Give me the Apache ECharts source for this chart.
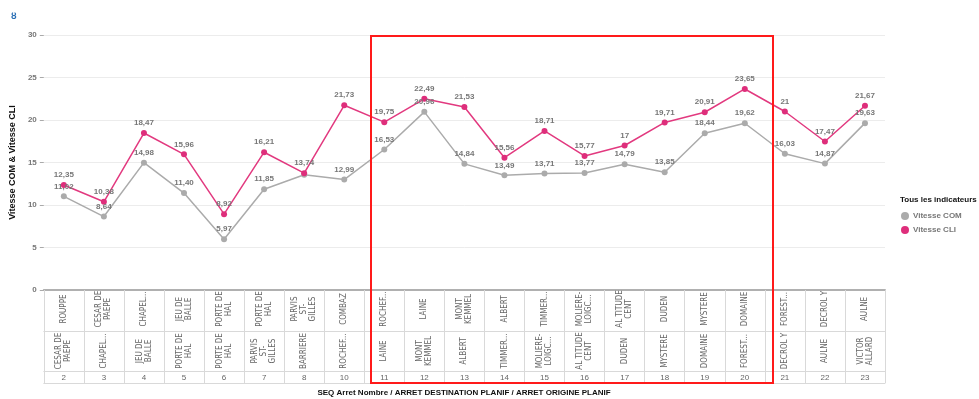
<!DOCTYPE html>
<html>
<head>
<meta charset="utf-8">
<script src="https://cdn.jsdelivr.net/npm/echarts@6/dist/echarts.min.js"></script>
<style>
html,body{margin:0;padding:0;background:#fff;}
#c{width:979px;height:399px;}
</style>
</head>
<body>
<div id="c"></div>
<script>
var seqNumbers = ['2','3','4','5','6','7','8','10','11','12','13','14','15','16','17','18','19','20','21','22','23'];
var destinations = ['ROUPPE','CESAR DE\nPAEPE','CHAPEL...','JEU DE\nBALLE','PORTE DE\nHAL','PORTE DE\nHAL','PARVIS\nST-\nGILLES','COMBAZ','ROCHEF...','LAINE','MONT\nKEMMEL','ALBERT','TIMMER...','MOLIERE-\nLOIGC...','AL TITUDE\nCENT','DUDEN','MYSTERE','DOMAINE','FOREST...','DECROL Y','AULNE'];
var origins = ['CESAR DE\nPAEPE','CHAPEL...','JEU DE\nBALLE','PORTE DE\nHAL','PORTE DE\nHAL','PARVIS\nST-\nGILLES','BARRIERE','ROCHEF...','LAINE','MONT\nKEMMEL','ALBERT','TIMMER...','MOLIERE-\nLOIGC...','AL TITUDE\nCENT','DUDEN','MYSTERE','DOMAINE','FOREST...','DECROL Y','AULNE','VICTOR\nALLARD'];
var vitesseCOM = [11.02, 8.64, 14.98, 11.40, 5.97, 11.85, 13.56, 12.99, 16.53, 20.96, 14.84, 13.49, 13.71, 13.77, 14.79, 13.85, 18.44, 19.62, 16.03, 14.87, 19.63];
var vitesseCLI = [12.35, 10.38, 18.47, 15.96, 8.92, 16.21, 13.74, 21.73, 19.75, 22.49, 21.53, 15.56, 18.71, 15.77, 17, 19.71, 20.91, 23.65, 21, 17.47, 21.67];
var yTicks = [0, 5, 10, 15, 20, 25, 30];
var hiddenCOMLabels = ['8'];

var FONT = 'Liberation Sans, Arial, sans-serif';
var NARROW = '"Liberation Sans Narrow", "DejaVu Sans Condensed", sans-serif';
function fmt(v){
  var s = (Math.round(v) === v) ? String(v) : v.toFixed(2);
  return s.replace('.', ',');
}
var comData = vitesseCOM.map(function(v, i){
  if (hiddenCOMLabels.indexOf(seqNumbers[i]) >= 0) return {value: v, label: {show: false}};
  return v;
});

var chart = echarts.init(document.getElementById('c'), null, {renderer: 'canvas'});
var tableLine = {show: true, lineStyle: {color: '#d9d9d9', width: 1}};
var option = {
  animation: false,
  textStyle: {fontFamily: FONT},
  grid: {left: 43, right: 94, top: 35, bottom: 109, containLabel: false},
  legend: {
    orient: 'vertical', left: 896, top: 207, itemWidth: 8, itemHeight: 8, itemGap: 6,
    icon: 'circle',
    textStyle: {fontFamily: FONT, fontSize: 8, fontWeight: 'bold', color: '#777', padding: [0,0,0,-1]},
    data: ['Vitesse COM', 'Vitesse CLI']
  },
  xAxis: [
    {
      type: 'category', data: destinations, position: 'bottom', offset: 0,
      axisLine: {show: true, lineStyle: {color: '#b0b0b0', width: 2}},
      axisTick: {show: true, length: 41, interval: 0, lineStyle: {color: '#d9d9d9'}},
      axisLabel: {interval: 0, rotate: 90, align: 'center', verticalAlign: 'middle', margin: 19,
        fontFamily: NARROW, fontSize: 8, color: '#666', lineHeight: 9}
    },
    {
      type: 'category', data: origins, position: 'bottom', offset: 41,
      axisLine: tableLine,
      axisTick: {show: true, length: 40, interval: 0, lineStyle: {color: '#d9d9d9'}},
      axisLabel: {interval: 0, rotate: 90, align: 'center', verticalAlign: 'middle', margin: 20,
        fontFamily: NARROW, fontSize: 8, color: '#666', lineHeight: 9}
    },
    {
      type: 'category', data: seqNumbers, position: 'bottom', offset: 81,
      axisLine: tableLine,
      axisTick: {show: true, length: 12, interval: 0, lineStyle: {color: '#d9d9d9'}},
      axisLabel: {interval: 0, margin: 3, fontFamily: FONT, fontSize: 8, color: '#666'}
    },
    {
      type: 'category', data: seqNumbers, position: 'bottom', offset: 93,
      axisLine: tableLine, axisTick: {show: false}, axisLabel: {show: false}
    }
  ],
  yAxis: {
    type: 'value', min: yTicks[0], max: yTicks[yTicks.length - 1], interval: 5,
    name: 'Vitesse COM & Vitesse CLI', nameLocation: 'middle', nameGap: 25, nameRotate: 90,
    nameTextStyle: {fontFamily: FONT, fontSize: 9, fontWeight: 'bold', color: '#111'},
    axisLine: {show: false},
    axisTick: {show: true, length: 4, lineStyle: {color: '#aaa'}},
    axisLabel: {margin: 7, fontFamily: FONT, fontSize: 8, fontWeight: 'bold', color: '#777'},
    splitLine: {show: true, lineStyle: {color: '#ececec', width: 1}}
  },
  series: [
    {
      name: 'Vitesse COM', type: 'line', xAxisIndex: 0, data: comData,
      symbol: 'circle', symbolSize: 6,
      itemStyle: {color: '#ababab'}, lineStyle: {color: '#ababab', width: 1.5},
      label: {show: true, position: 'top', distance: 3, formatter: function(p){ return fmt(p.value); },
        fontFamily: FONT, fontSize: 8, fontWeight: 'bold', color: '#777'}
    },
    {
      name: 'Vitesse CLI', type: 'line', xAxisIndex: 0, data: vitesseCLI,
      symbol: 'circle', symbolSize: 6,
      itemStyle: {color: '#de2e7b'}, lineStyle: {color: '#e2397f', width: 1.5},
      label: {show: true, position: 'top', distance: 3, formatter: function(p){ return fmt(p.value); },
        fontFamily: FONT, fontSize: 8, fontWeight: 'bold', color: '#777'}
    }
  ],
  graphic: [
    {type: 'text', left: 11, top: 12, style: {text: 'ȣ', fill: '#2a6fb5', font: 'bold 9px ' + FONT}},
    {type: 'text', left: 900, top: 196, style: {text: 'Tous les indicateurs', fill: '#111', font: 'bold 8px ' + FONT}},
    {type: 'text', x: 464, y: 393, style: {text: 'SEQ Arret Nombre / ARRET DESTINATION PLANIF / ARRET ORIGINE PLANIF', fill: '#111', font: 'bold 8px ' + FONT, align: 'center', verticalAlign: 'middle'}},
    {type: 'rect', shape: {x: 371, y: 36, width: 402, height: 347}, style: {fill: 'none', stroke: '#ff1a1a', lineWidth: 2}, z: 100}
  ]
};
chart.setOption(option);
</script>
</body>
</html>
